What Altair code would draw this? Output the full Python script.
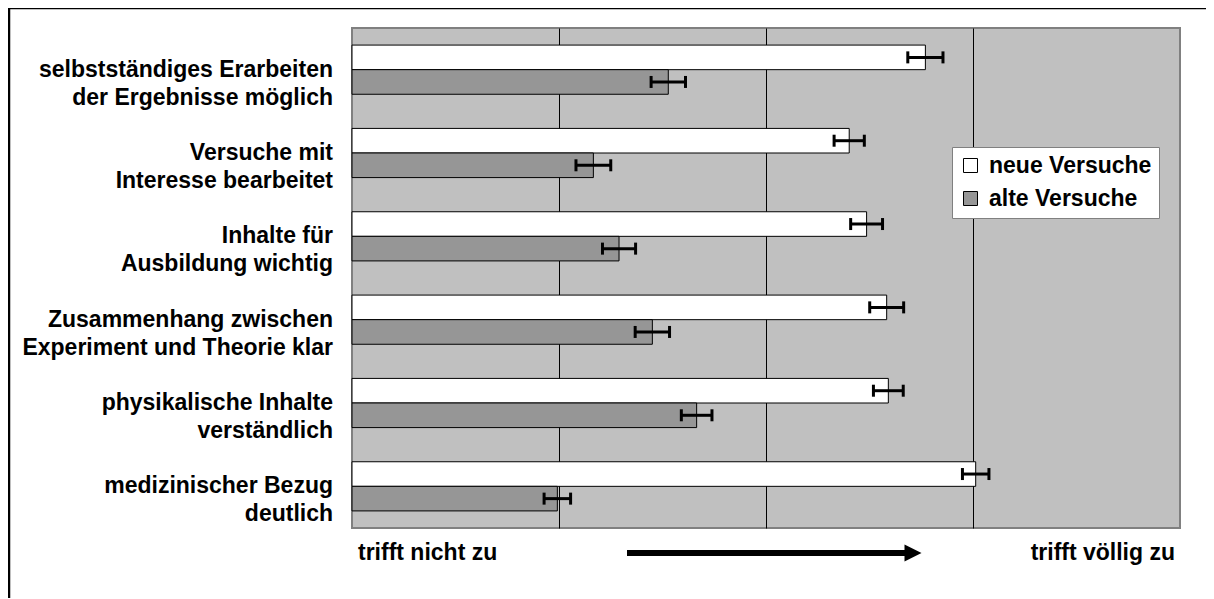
import altair as alt
import pandas as pd

FONT = "Liberation Sans"

categories = [
    "selbstständiges Erarbeiten\nder Ergebnisse möglich",
    "Versuche mit\nInteresse bearbeitet",
    "Inhalte für\nAusbildung wichtig",
    "Zusammenhang zwischen\nExperiment und Theorie klar",
    "physikalische Inhalte\nverständlich",
    "medizinischer Bezug\ndeutlich",
]
series = ["neue Versuche", "alte Versuche"]
neue = [2.770, 2.402, 2.486, 2.583, 2.591, 3.013]
alte = [1.528, 1.166, 1.290, 1.451, 1.665, 0.992]
neue_err = [0.085, 0.073, 0.077, 0.082, 0.072, 0.064]
alte_err = [0.083, 0.084, 0.080, 0.083, 0.074, 0.064]
colors = ["#ffffff", "#969696"]
scale_labels = ["trifft nicht zu", "trifft völlig zu"]

rows = []
for i, c in enumerate(categories):
    for s, vals, errs in ((series[0], neue, neue_err), (series[1], alte, alte_err)):
        rows.append({"cat": c, "series": s, "value": vals[i],
                     "lo": vals[i] - errs[i], "hi": vals[i] + errs[i]})
df = pd.DataFrame(rows)
cat_df = pd.DataFrame({"cat": categories})
one = pd.DataFrame({"k": [0]})

xs = alt.Scale(domain=[0, 4], nice=False, zero=True)
xaxis = alt.Axis(values=[1, 2, 3], grid=True, gridColor="black", gridWidth=1,
                 gridOpacity=1, labels=False, ticks=False, domain=False, title=None)
ys = alt.Scale(domain=categories, paddingInner=0.41, paddingOuter=0.205)
Y = alt.Y("cat:N", sort=categories, scale=ys, axis=None)
YO = alt.YOffset("series:N", sort=series,
                 scale=alt.Scale(domain=series, paddingInner=0, paddingOuter=0))

frame = alt.Chart(one).mark_rect(fillOpacity=0, stroke="black", strokeWidth=2.5).encode(
    x=alt.value(-343), x2=alt.value(2000), y=alt.value(-20), y2=alt.value(2000)
)

bars = alt.Chart(df).mark_bar(stroke="black", strokeWidth=1).encode(
    x=alt.X("value:Q", scale=xs, axis=xaxis),
    y=Y,
    yOffset=YO,
    fill=alt.Fill("series:N", scale=alt.Scale(domain=series, range=colors),
                  legend=alt.Legend(orient="none", legendX=600, legendY=119, title=None,
                                    fillColor="white", strokeColor="#808080", padding=7,
                                    symbolType="square", symbolSize=196,
                                    symbolStrokeColor="black", symbolStrokeWidth=1,
                                    symbolOpacity=1, labelLimit=400,
                                    labelFont=FONT, labelFontSize=23, labelFontWeight="bold",
                                    labelColor="black", rowPadding=9, labelOffset=7)),
)

err = alt.Chart(df).mark_rule(color="black", strokeWidth=3).encode(
    x="lo:Q", x2="hi:Q", y=Y, yOffset=YO
)
cap_lo = alt.Chart(df).mark_tick(color="black", thickness=3, size=12, opacity=1).encode(
    x="lo:Q", y=Y, yOffset=YO
)
cap_hi = alt.Chart(df).mark_tick(color="black", thickness=3, size=12, opacity=1).encode(
    x="hi:Q", y=Y, yOffset=YO
)

labels = alt.Chart(cat_df).mark_text(
    align="right", baseline="middle", lineBreak="\n", lineHeight=28,
    font=FONT, fontSize=23, fontWeight="bold", color="black"
).encode(x=alt.value(-19), y=Y, text="cat:N")

left_txt = alt.Chart(pd.DataFrame({"pos": [0], "t": [scale_labels[0]]})).mark_text(
    align="left", baseline="middle", dx=6, font=FONT, fontSize=23, fontWeight="bold", color="black"
).encode(x=alt.X("pos:Q", scale=xs), y=alt.value(525), text="t:N")
right_txt = alt.Chart(pd.DataFrame({"pos": [4], "t": [scale_labels[1]]})).mark_text(
    align="right", baseline="middle", dx=-5, font=FONT, fontSize=23, fontWeight="bold", color="black"
).encode(x=alt.X("pos:Q", scale=xs), y=alt.value(525), text="t:N")

arrow = alt.Chart(one).mark_rule(color="black", strokeWidth=6).encode(
    x=alt.value(275), x2=alt.value(556), y=alt.value(525)
)
head = alt.Chart(one).mark_point(shape="M-1,-1L1,0L-1,1Z", filled=True, color="black",
                                 size=289, opacity=1).encode(
    x=alt.value(561), y=alt.value(525)
)

chart = alt.layer(frame, bars, err, cap_lo, cap_hi, labels, left_txt, right_txt, arrow, head).properties(
    width=828, height=500,
    autosize=alt.AutoSizeParams(type="none"),
    padding={"left": 344, "top": 20, "right": 26, "bottom": 70},
    background="white",
).configure_view(fill="#c0c0c0", stroke="#808080", strokeWidth=2)

chart.save("out.html", embed_options={"renderer": "svg", "actions": False})
